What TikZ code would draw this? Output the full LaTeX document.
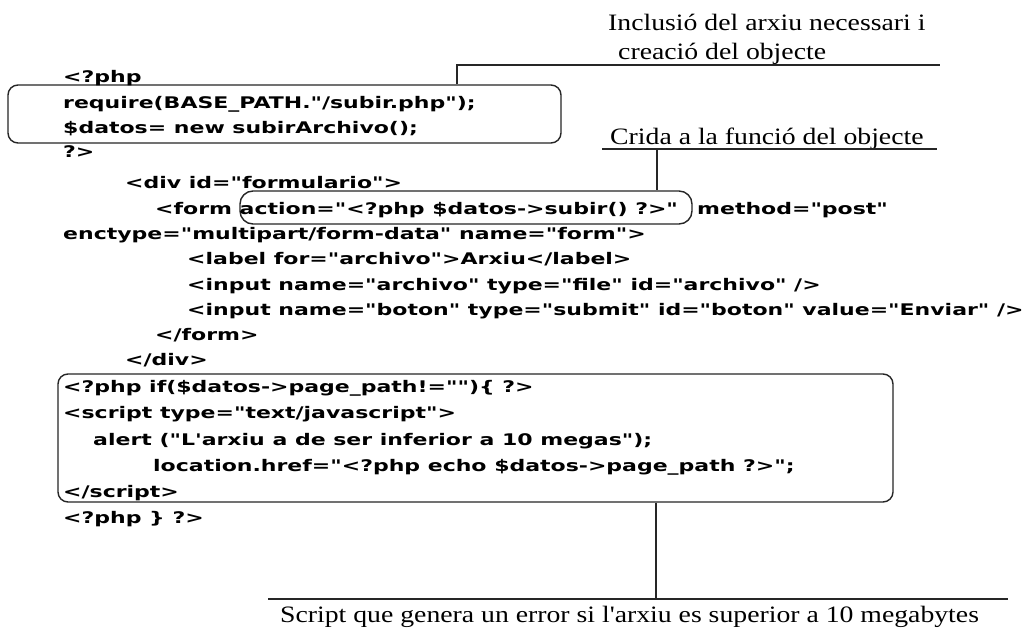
\documentclass[tikz,border=0pt]{standalone}
\usepackage{fontspec}
\newfontfamily\codefont[Ligatures=TeXOff,FakeStretch=1.375]{DejaVu Sans}
\newfontfamily\notefont[Ligatures=TeXOff,FakeStretch=1.18]{Liberation Serif}
\tikzset{
  code/.style={anchor=base west, inner sep=0pt, font=\codefont\bfseries\fontsize{16}{19}\selectfont},
  note/.style={anchor=base west, inner sep=0pt, font=\notefont\fontsize{23.5}{28}\selectfont},
  frame/.style={draw=black!85, line width=1.4pt, rounded corners=10pt, inner sep=0pt},
  lead/.style={draw=black!85, line width=1.4pt},
}
\begin{document}
\begin{tikzpicture}[x=1pt, y=-1pt]
\useasboundingbox (0,0) rectangle (1027,628);
\fill[white] (0,0) rectangle (1027,628);

% frames around the highlighted code
\node[frame, minimum width=553pt, minimum height=58pt] (boxA) at (284.5,114) {};
\node[frame, rounded corners=13pt, minimum width=452pt, minimum height=33pt] (oval) at (466,207.5) {};
\node[frame, minimum width=835pt, minimum height=128pt] (boxB) at (475.5,438) {};

% PHP / HTML source
\node[code] (c1)  at (63,83)   {<?php};
\node[code] (c2)  at (63,109)  {require(BASE\_PATH."/subir.php");};
\node[code] (c3)  at (63,134)  {\$datos= new subirArchivo();};
\node[code] (c4)  at (63,158)  {?>};
\node[code] (c5)  at (125,189) {<div id="formulario">};
\node[code] (c6)  at (155,215) {<form action="<?php \$datos->subir() ?>"};
\node[code] (c6b) at (697,215) {method="post"};
\node[code] (c7)  at (63,240)  {enctype="multipart/form-data" name="form">};
\node[code] (c8)  at (187,265) {<label for="archivo">Arxiu</label>};
\node[code] (c9)  at (187,290) {<input name="archivo" type="file" id="archivo" />};
\node[code] (c10) at (187,315) {<input name="boton" type="submit" id="boton" value="Enviar" />};
\node[code] (c11) at (155,340) {</form>};
\node[code] (c12) at (125,365) {</div>};
\node[code] (c13) at (63,392)  {<?php if(\$datos->page\_path!="")\{ ?>};
\node[code] (c14) at (63,418)  {<script type="text/javascript">};
\node[code] (c15) at (93,445)  {alert ("L'arxiu a de ser inferior a 10 megas");};
\node[code] (c16) at (153,471) {location.href="<?php echo \$datos->page\_path ?>";};
\node[code] (c17) at (63,497)  {</script>};
\node[code] (c18) at (63,523)  {<?php \} ?>};

% explanatory notes
\node[note] (n1a) at (608,31)  {Inclusió del arxiu necessari i};
\node[note] (n1b) at (618,60)  {creació del objecte};
\node[note] (n2)  at (610,145) {Crida a la funció del objecte};
\node[note] (n3)  at (280,622) {Script que genera un error si l'arxiu es superior a 10 megabytes};

% leader lines
\coordinate (u1a) at (457,65);
\coordinate (u1b) at (940,65);
\coordinate (u2a) at (602,149);
\coordinate (u2m) at (657,149);
\coordinate (u2b) at (937,149);
\coordinate (u3a) at (268,599);
\coordinate (u3m) at (656,599);
\coordinate (u3b) at (1008,599);

\draw[lead] (boxA.north -| u1a) -- (u1a) -- (u1b);
\draw[lead] (u2a) -- (u2b);
\draw[lead] (u2m) -- (oval.north -| u2m);
\draw[lead] (u3a) -- (u3b);
\draw[lead] (boxB.south -| u3m) -- (u3m);
\end{tikzpicture}
\end{document}
